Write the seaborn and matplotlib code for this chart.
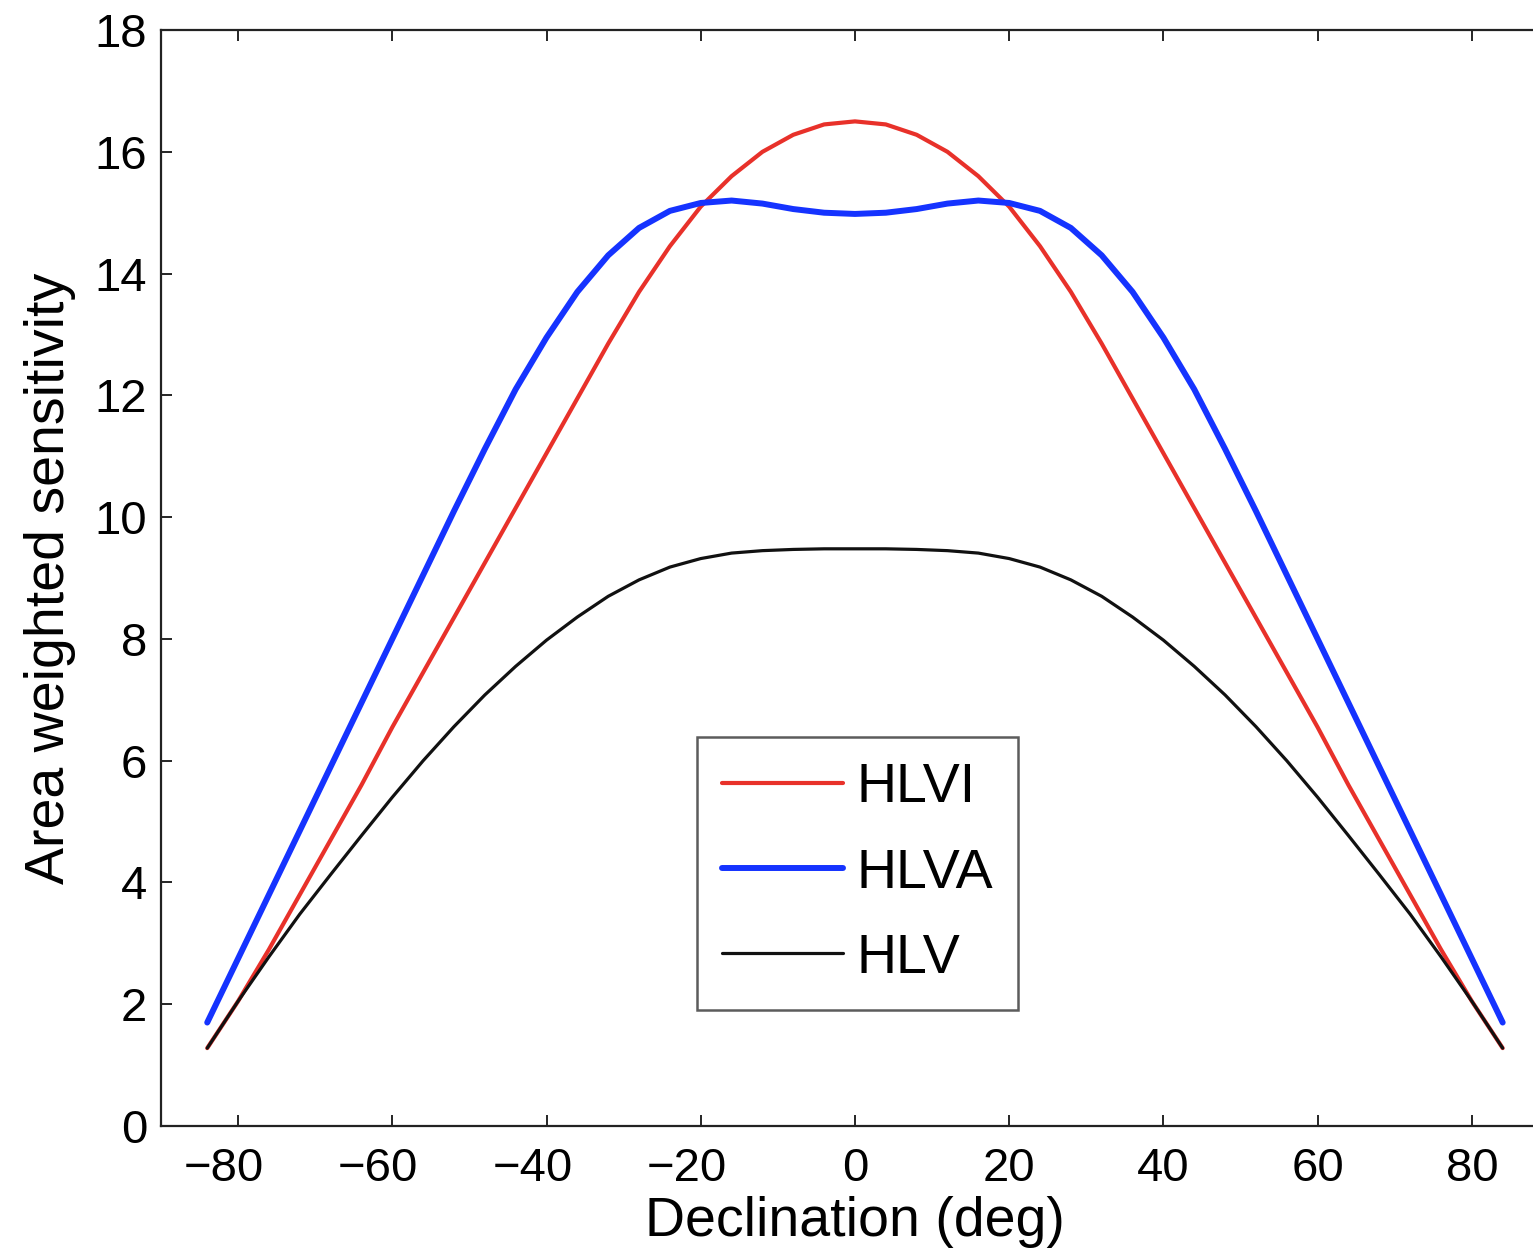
import numpy as np
import pandas as pd
import matplotlib
matplotlib.use("Agg")
import matplotlib.pyplot as plt
import matplotlib.transforms as mtransforms
import seaborn as sns

# Declination grid (deg)
declination = [-84, -80, -76, -72, -68, -64, -60, -56, -52, -48, -44, -40, -36, -32, -28, -24, -20, -16, -12, -8, -4, 0,
               4, 8, 12, 16, 20, 24, 28, 32, 36, 40, 44, 48, 52, 56, 60, 64, 68, 72, 76, 80, 84]

hlvi = [1.28, 2.05, 2.9, 3.8, 4.7, 5.6, 6.55, 7.45, 8.35, 9.25, 10.15, 11.05, 11.95, 12.85, 13.7, 14.45, 15.1, 15.6, 16.0, 16.28, 16.45, 16.5,
        16.45, 16.28, 16.0, 15.6, 15.1, 14.45, 13.7, 12.85, 11.95, 11.05, 10.15, 9.25, 8.35, 7.45, 6.55, 5.6, 4.7, 3.8, 2.9, 2.05, 1.28]

hlva = [1.7, 2.75, 3.8, 4.85, 5.9, 6.95, 8.0, 9.05, 10.1, 11.12, 12.1, 12.95, 13.7, 14.3, 14.75, 15.03, 15.16, 15.2, 15.15, 15.06, 15.0, 14.98,
        15.0, 15.06, 15.15, 15.2, 15.16, 15.03, 14.75, 14.3, 13.7, 12.95, 12.1, 11.12, 10.1, 9.05, 8.0, 6.95, 5.9, 4.85, 3.8, 2.75, 1.7]

hlv = [1.28, 2.05, 2.78, 3.48, 4.13, 4.77, 5.4, 6.0, 6.56, 7.08, 7.55, 7.98, 8.36, 8.7, 8.97, 9.18, 9.32, 9.41, 9.45, 9.47, 9.48, 9.48,
       9.48, 9.47, 9.45, 9.41, 9.32, 9.18, 8.97, 8.7, 8.36, 7.98, 7.55, 7.08, 6.56, 6.0, 5.4, 4.77, 4.13, 3.48, 2.78, 2.05, 1.28]

series_names = ["HLVI", "HLVA", "HLV"]
x_ticks = [-80, -60, -40, -20, 0, 20, 40, 60, 80]
y_ticks = [0, 2, 4, 6, 8, 10, 12, 14, 16, 18]

df = pd.DataFrame({
    "Declination": declination * 3,
    "Sensitivity": hlvi + hlva + hlv,
    "Network": sum([[n] * len(declination) for n in series_names], []),
})

sns.set_style("ticks")
plt.rcParams["font.family"] = ["Liberation Sans", "DejaVu Sans"]
plt.rcParams["text.color"] = "black"
plt.rcParams["axes.labelcolor"] = "black"
plt.rcParams["xtick.color"] = "black"
plt.rcParams["ytick.color"] = "black"

fig = plt.figure(figsize=(15.33, 12.52), dpi=100)
ax = fig.add_axes([0.105, 0.1006, 0.9054, 0.8754])

palette = {"HLVI": "#e8312a", "HLVA": "#1533ff", "HLV": "#111111"}
sizes = {"HLVI": 3.0, "HLVA": 4.3, "HLV": 2.3}

for name in series_names:
    sub = df[df["Network"] == name]
    sns.lineplot(data=sub, x="Declination", y="Sensitivity", ax=ax,
                 color=palette[name], linewidth=sizes[name], label=name,
                 estimator=None, sort=True)

ax.set_xlim(-90, 90)
ax.set_ylim(0, 18)
ax.set_xticks(x_ticks)
ax.set_yticks(y_ticks)
ax.set_xticklabels([f"{t:d}".replace("-", "\u2212") for t in x_ticks])
ax.set_xlabel("Declination (deg)", fontsize=40, labelpad=4)
ax.set_ylabel("Area weighted sensitivity", fontsize=40)
ax.yaxis.set_label_coords(-0.061, 0.5)
ax.tick_params(axis="both", direction="in", length=8, width=1.2, labelsize=34,
               top=True, right=True, colors="black")
ax.tick_params(axis="x", pad=15)
ax.tick_params(axis="y", pad=10)
for s in ax.spines.values():
    s.set_linewidth(1.6)
    s.set_color("#222222")

# negative tick labels sit slightly left of their ticks, as in the original
shift = mtransforms.ScaledTranslation(-0.14, 0, fig.dpi_scale_trans)
for t, lab in zip(x_ticks, ax.get_xticklabels()):
    if t < 0:
        lab.set_transform(lab.get_transform() + shift)

leg = ax.legend(loc="lower left", bbox_to_anchor=(0.386, 0.106), fontsize=40,
                frameon=True, fancybox=False, edgecolor="#333333",
                handlelength=2.18, handletextpad=0.25, labelspacing=0.6,
                borderpad=0.45, borderaxespad=0)
leg.get_frame().set_linewidth(1.8)

fig.savefig("out.png", dpi=100, facecolor="white")
